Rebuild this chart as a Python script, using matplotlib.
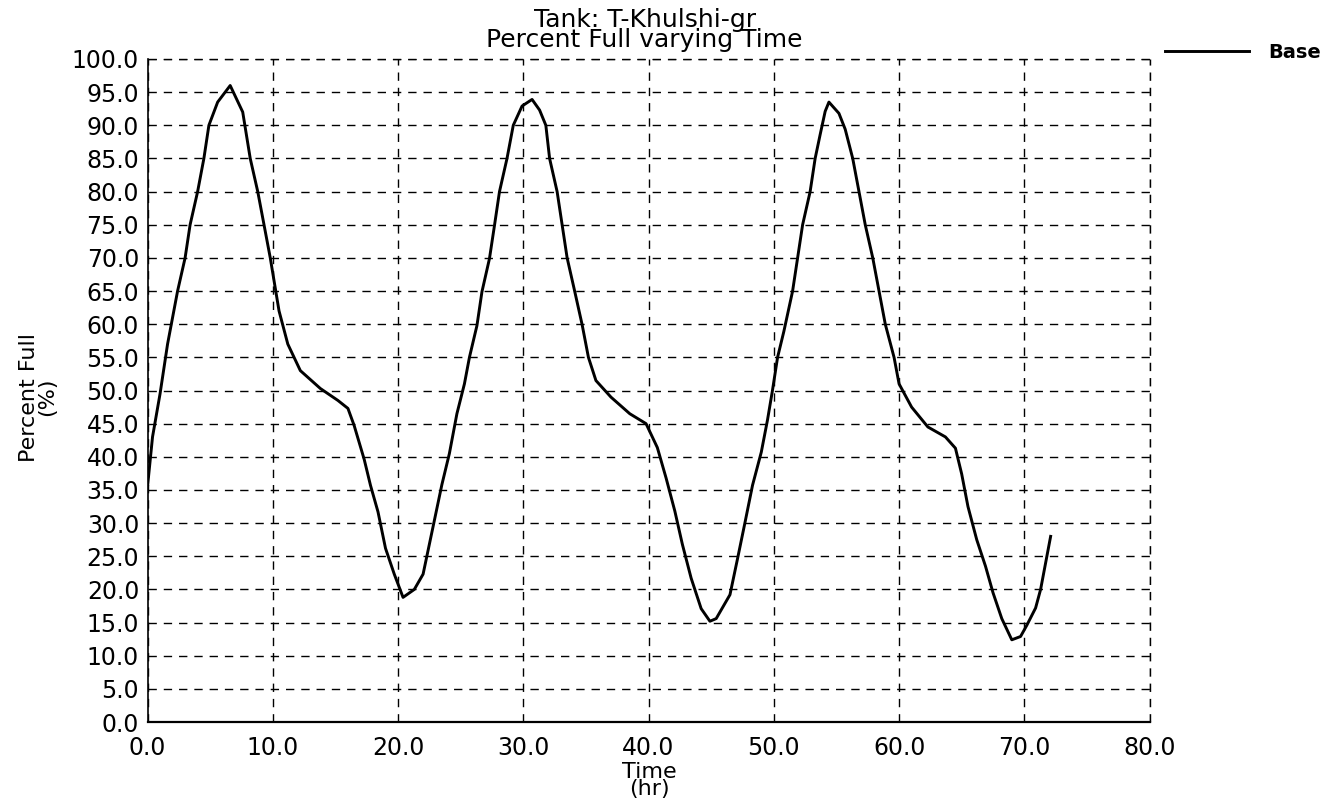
import matplotlib
matplotlib.use("Agg")
import matplotlib.pyplot as plt

# values
time_hr = [0.0, 0.4, 1.0, 1.6, 2.4, 3.0, 3.4, 4.0, 4.5, 4.9, 5.6, 6.6, 7.6, 8.2, 8.8,
           9.3, 9.8, 10.5, 11.2, 12.2, 13.8, 15.2, 16.0, 16.5, 17.3, 17.8, 18.4, 19.0,
           19.7, 20.4, 21.3, 22.0, 22.5, 23.0, 23.5, 24.1, 24.7, 25.3, 25.7, 26.3, 26.7,
           27.3, 27.7, 28.1, 28.7, 29.2, 29.9, 30.7, 31.3, 31.8, 32.1, 32.7, 33.1, 33.5,
           34.1, 34.7, 35.2, 35.8, 37.0, 38.5, 39.8, 40.7, 41.4, 42.1, 42.7, 43.4, 44.2,
           44.9, 45.4, 46.5, 47.1, 47.7, 48.3, 49.0, 49.5, 49.9, 50.3, 50.8, 51.5, 51.9,
           52.3, 52.9, 53.3, 53.7, 54.1, 54.4, 55.2, 55.7, 56.3, 56.8, 57.3, 57.9, 58.4,
           58.9, 59.6, 60.0, 61.0, 62.3, 63.7, 64.5, 65.0, 65.5, 66.2, 66.9, 67.5, 68.2,
           69.0, 69.7, 70.2, 70.9, 71.3, 71.7, 72.1]
percent_full = [35.5, 43.0, 49.5, 57.0, 65.0, 70.0, 75.0, 80.0, 85.0, 90.0, 93.5, 96.0, 92.0,
                85.0, 80.0, 75.0, 70.0, 62.0, 57.0, 53.0, 50.3, 48.5, 47.3, 44.7, 39.6, 35.7,
                31.7, 26.2, 22.3, 18.8, 20.0, 22.3, 26.8, 31.3, 35.8, 40.5, 46.5, 51.0, 55.0,
                59.8, 64.9, 69.9, 74.9, 80.0, 85.0, 90.0, 92.9, 93.9, 92.3, 90.0, 85.0, 80.0,
                75.0, 70.0, 65.0, 59.9, 55.0, 51.5, 49.0, 46.5, 45.0, 41.4, 36.8, 31.8, 26.8,
                21.7, 17.1, 15.2, 15.6, 19.2, 24.6, 30.1, 35.7, 40.7, 45.6, 50.1, 55.0, 58.9,
                65.0, 70.0, 75.0, 80.0, 85.0, 88.6, 92.1, 93.5, 91.8, 89.4, 85.0, 80.0, 75.0,
                70.0, 65.0, 60.0, 55.0, 51.0, 47.5, 44.5, 43.0, 41.3, 37.4, 32.5, 27.5, 23.5,
                19.5, 15.6, 12.4, 12.9, 14.6, 17.2, 20.0, 24.0, 28.0]

x_ticks = [0, 10, 20, 30, 40, 50, 60, 70, 80]
y_ticks = list(range(0, 101, 5))

fig = plt.figure(figsize=(13.29, 8.07), dpi=100)
ax = fig.add_axes([0.111, 0.1053, 0.754, 0.8216])

ax.plot(time_hr, percent_full, color="black", linewidth=2.1, label="Base")

ax.set_xlim(0, 80)
ax.set_ylim(0, 100)
ax.set_xticks(x_ticks)
ax.set_xticklabels([f"{v:.1f}" for v in x_ticks])
ax.set_yticks(y_ticks)
ax.set_yticklabels([f"{v:.1f}" for v in y_ticks])
ax.tick_params(length=0, labelsize=17)
ax.tick_params(axis="x", pad=10)
ax.tick_params(axis="y", pad=6)

ax.grid(True, color="black", linestyle=(0, (6, 5)), linewidth=1.0)
ax.axhline(100, color="black", linestyle=(0, (6, 5)), linewidth=1.0, clip_on=False)
ax.axvline(80, color="black", linestyle=(0, (6, 5)), linewidth=1.0, clip_on=False)
ax.spines["top"].set_visible(False)
ax.spines["right"].set_visible(False)
ax.spines["left"].set_linewidth(1.2)
ax.spines["bottom"].set_linewidth(1.6)

ax.set_ylabel("Percent Full\n(%)", fontsize=16, linespacing=0.9)
ax.yaxis.set_label_coords(-0.09, 0.49)
ax.set_xlabel("Time\n(hr)", fontsize=16, linespacing=0.8)
ax.xaxis.set_label_coords(0.501, -0.06)

fig.text(0.485, 0.963, "Tank: T-Khulshi-gr\nPercent Full varying Time",
         ha="center", va="center", fontsize=18, linespacing=0.8)

ax.legend(loc="center left", bbox_to_anchor=(1165 / 1329, 1 - 52 / 807),
          bbox_transform=fig.transFigure, frameon=False, borderpad=0,
          borderaxespad=0, handlelength=4.3, handletextpad=1.0,
          prop={"size": 14, "weight": "bold"})

fig.savefig("out.png", dpi=100)
